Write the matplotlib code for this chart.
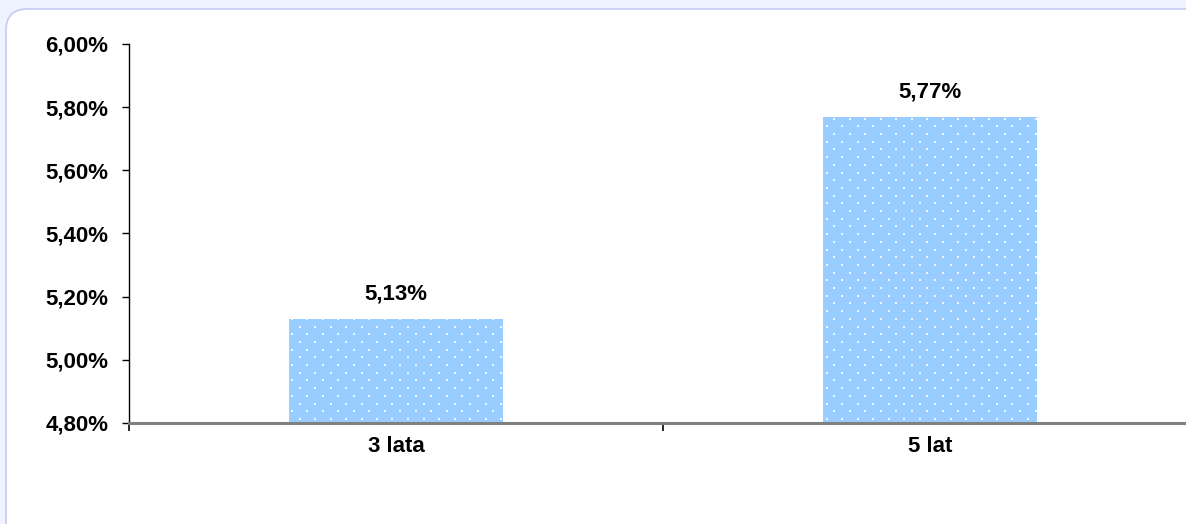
import matplotlib
matplotlib.use("Agg")
import numpy as np
import matplotlib.pyplot as plt
from matplotlib.patches import FancyBboxPatch
from matplotlib.ticker import FuncFormatter

plt.rcParams["font.family"] = ["Liberation Sans", "DejaVu Sans"]

categories = ["3 lata", "5 lat"]
values = [5.13, 5.77]
yticks = [4.80, 5.00, 5.20, 5.40, 5.60, 5.80, 6.00]


def pct(v):
    return f"{v:.2f}%".replace(".", ",")


fig = plt.figure(figsize=(11.86, 5.24), dpi=100, facecolor="#eff2ff")

# rounded frame around the chart
frame = FancyBboxPatch((6 / 1186, -0.2), 1.2, 1 - 9 / 524 + 0.2,
                       boxstyle="round,pad=0,rounding_size=0.018",
                       mutation_aspect=1186 / 524,
                       transform=fig.transFigure, facecolor="white",
                       edgecolor="#c8c8f4", linewidth=1.2, zorder=-5)
fig.patches.append(frame)

ax = fig.add_axes([129 / 1186, 1 - 423 / 524, (1197 - 129) / 1186, 379 / 524])
ax.set_facecolor("none")
ax.set_zorder(2)

x = range(len(categories))
bars = ax.bar(x, values, width=0.4, color="#99ccff", linewidth=0, zorder=2)

ax.set_xlim(-0.5, len(categories) - 0.5)
ax.set_ylim(yticks[0], yticks[-1])

# dotted fill texture: staggered lattice of small white dots, clipped to each bar
inv = ax.transData.inverted()
x0, y0 = ax.transData.transform((-0.5, yticks[0]))
x1, y1 = ax.transData.transform((len(categories) - 0.5, yticks[-1]))
pts = []
for r, py in enumerate(np.arange(y0 + 4, y1, 7.7)):
    off = 0 if r % 2 == 0 else 7.75
    for px in np.arange(x0 + off, x1, 15.5):
        pts.append((px, py))
dots = inv.transform(np.array(pts))
for b in bars:
    sc = ax.scatter(dots[:, 0], dots[:, 1], s=1.3, marker="s", color="white",
                    alpha=0.85, linewidths=0, zorder=2.5)
    sc.set_clip_path(b)

for xi, v in zip(x, values):
    ax.annotate(pct(v), (xi, v), xytext=(0, 18), textcoords="offset points",
                ha="center", va="center", fontsize=16, fontweight="bold")

ax.set_yticks(yticks)
ax.yaxis.set_major_formatter(FuncFormatter(lambda v, _: pct(v)))

ax.set_xticks([i - 0.5 for i in range(len(categories) + 1)])
ax.set_xticklabels([])
ax.set_xticks(list(x), minor=True)
ax.set_xticklabels(categories, minor=True)
ax.tick_params(axis="x", which="major", length=6, width=1.2, color="black", direction="out")
ax.tick_params(axis="x", which="minor", length=0, pad=9)
ax.tick_params(axis="y", length=5, width=1, direction="out", pad=10)
for lab in ax.get_xticklabels(minor=True) + ax.get_yticklabels():
    lab.set_fontsize(16)
    lab.set_fontweight("bold")

for s in ["top", "right"]:
    ax.spines[s].set_visible(False)
ax.spines["left"].set_linewidth(1)
ax.spines["left"].set_color("black")
ax.spines["bottom"].set_linewidth(2.2)
ax.spines["bottom"].set_color("#808080")
ax.spines["bottom"].set_zorder(3)

fig.savefig("out.png", dpi=100, facecolor=fig.get_facecolor())
